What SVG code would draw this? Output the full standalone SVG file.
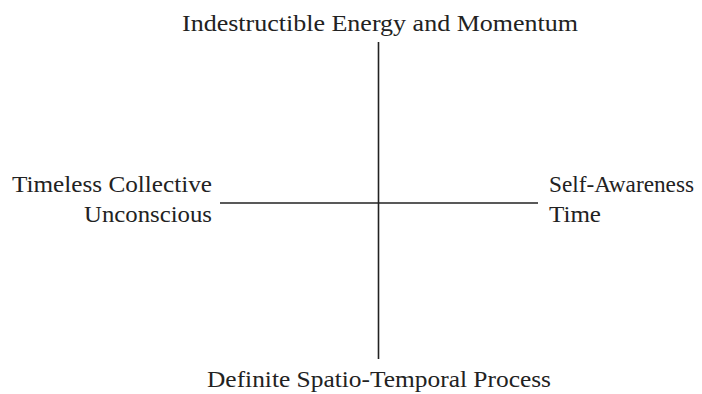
<svg xmlns="http://www.w3.org/2000/svg" width="702" height="394" viewBox="0 0 702 394">
<style>
text{font-family:"Liberation Serif","Times New Roman",serif;font-size:24px;fill:#222}
.ln{stroke:#222;stroke-width:1.6;fill:none}
</style>
<rect width="702" height="394" fill="#fff"/>
<g id="connectors">
<line class="ln" x1="378.5" y1="42" x2="378.5" y2="359"/>
<line class="ln" x1="220" y1="203" x2="538" y2="203"/>
</g>
<g id="top"><text x="182" y="31" textLength="396" lengthAdjust="spacingAndGlyphs">Indestructible Energy and Momentum</text></g>
<g id="left"><text x="212" y="192" text-anchor="end" textLength="200" lengthAdjust="spacingAndGlyphs">Timeless Collective</text><text x="212" y="222" text-anchor="end" textLength="128" lengthAdjust="spacingAndGlyphs">Unconscious</text></g>
<g id="right"><text x="549" y="192" textLength="145" lengthAdjust="spacingAndGlyphs">Self-Awareness</text><text x="549" y="222" textLength="52" lengthAdjust="spacingAndGlyphs">Time</text></g>
<g id="bottom"><text x="207" y="387" style="font-size:23px" textLength="344" lengthAdjust="spacingAndGlyphs">Definite Spatio-Temporal Process</text></g>
</svg>
